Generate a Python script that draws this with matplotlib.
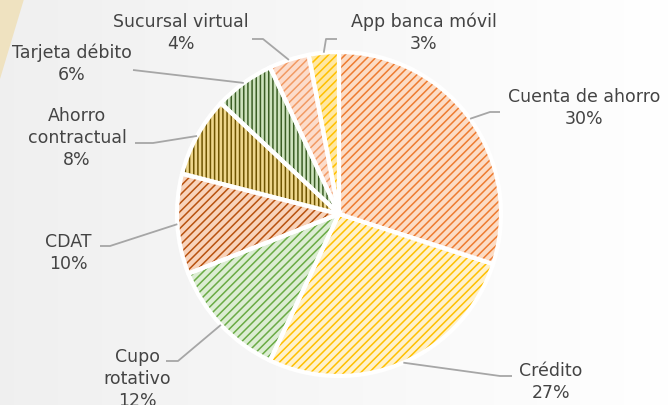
import numpy as np
import matplotlib
matplotlib.use("Agg")
import matplotlib.pyplot as plt
from matplotlib.patches import Polygon

# ---- data ----
categories = ["Cuenta de ahorro", "Crédito", "Cupo\nrotativo", "CDAT",
              "Ahorro\ncontractual", "Tarjeta débito", "Sucursal virtual",
              "App banca móvil"]
values = [30, 27, 12, 10, 8, 6, 4, 3]

# ---- styles ----
face_colors = ["#fcdcc5", "#fff2cc", "#dcedd3", "#f8d3bb",
               "#eed68c", "#cde2bd", "#fcdccb", "#ffe8a3"]
hatch_colors = ["#ee7b30", "#ffc000", "#6aab45", "#b9520f",
                "#6e5400", "#3b5e25", "#f29a64", "#ffc000"]
hatches = ["////", "////", "////", "////", "||||", "||||", "////", "////"]

W, H = 669, 406
# label layout in pixel coords (top-left origin): text centre, elbow, end
label_layout = [
    ((584, 108), (490, 113), (500, 113)),
    ((551, 382), (500, 377), (512, 377)),
    ((137, 379), (178, 362), (166, 362)),
    ((68, 253), (110, 247), (100, 247)),
    ((77, 138), (153, 144), (135, 144)),
    ((72, 64), (133, 71), (133, 71)),
    ((181, 33), (263, 40), (252, 40)),
    ((424, 33), (326, 40), (337, 40)),
]
cx, cy, R = 339, 215, 162

plt.rcParams["hatch.linewidth"] = 1.1
fig = plt.figure(figsize=(W / 100, H / 100), dpi=100)

# background gradient
bg = fig.add_axes([0, 0, 1, 1])
bg.set_axis_off()
grad = np.linspace(0.94, 1.0, 256)[None, :]
bg.imshow(np.dstack([grad, grad, grad]), extent=[0, W, 0, H], aspect="auto")
bg.add_patch(Polygon([(0, H), (24, H), (0, H - 80)], closed=True,
                     facecolor="#efe2c0", edgecolor="none"))
bg.set_xlim(0, W)
bg.set_ylim(0, H)

ax = fig.add_axes([0, 0, 1, 1])
ax.set_axis_off()
ax.patch.set_alpha(0)


def Y(y):
    return H - y


wedges, _ = ax.pie(values, startangle=90, counterclock=False,
                   center=(cx, Y(cy)), radius=R, colors=face_colors,
                   wedgeprops=dict(linewidth=0), frame=True)
for w, hc, h in zip(wedges, hatch_colors, hatches):
    w.set_edgecolor(hc)
    w.set_hatch(h)
    w.set_linewidth(0)

ax.pie(values, startangle=90, counterclock=False, center=(cx, Y(cy)),
       radius=R, colors=["none"] * len(values),
       wedgeprops=dict(linewidth=3.0, edgecolor="white", facecolor="none"),
       frame=True)
ax.set_xlim(0, W)
ax.set_ylim(0, H)
ax.set_axis_off()

for w, cat, v, (tpos, elbow, end) in zip(wedges, categories, values, label_layout):
    ang = np.deg2rad((w.theta1 + w.theta2) / 2)
    sx = cx + R * np.cos(ang)
    sy = Y(cy) + R * np.sin(ang)
    ax.plot([sx, elbow[0], end[0]], [sy, Y(elbow[1]), Y(end[1])],
            color="#a6a6a6", lw=1.3, solid_capstyle="butt", zorder=5)
    ax.text(tpos[0], Y(tpos[1]), f"{cat}\n{v}%", ha="center", va="center",
            multialignment="center", fontsize=12.5, color="#444444",
            family="DejaVu Sans", linespacing=1.32, zorder=6)

fig.savefig("out.png", dpi=100)
